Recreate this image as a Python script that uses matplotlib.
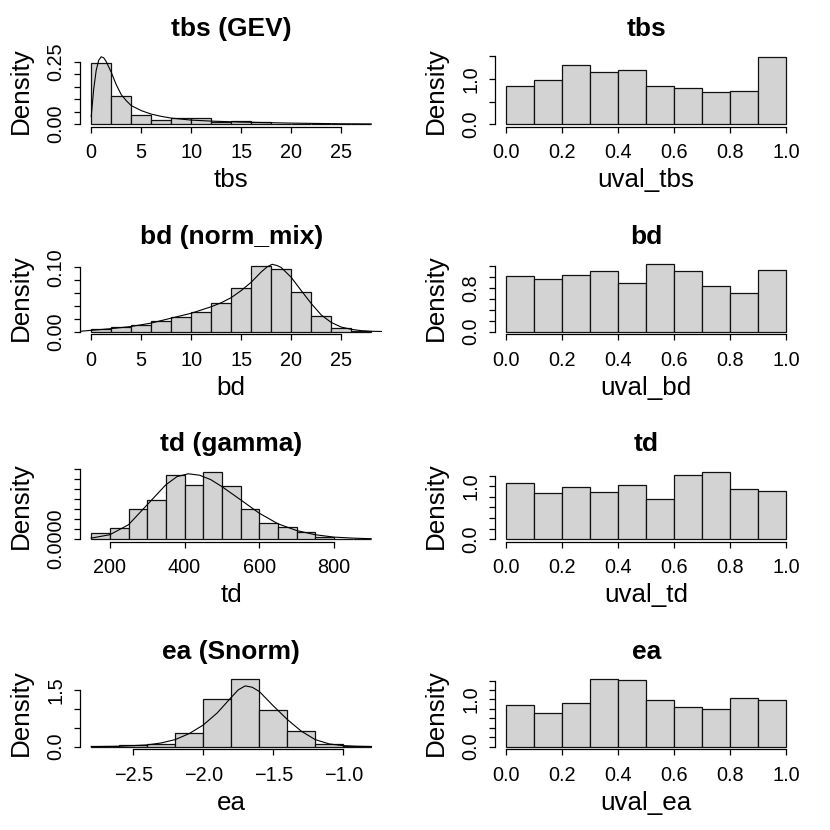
import numpy as np
import matplotlib.pyplot as plt

plt.rcParams['font.family'] = ['Liberation Sans', 'DejaVu Sans']

# ---- left column: histograms (density) with fitted curves ----
tbs_edges = [0, 2, 4, 6, 8, 10, 12, 14, 16, 18, 20, 22, 24, 26, 28]
tbs_dens = [0.245, 0.112, 0.037, 0.016, 0.024, 0.026, 0.007, 0.011, 0.007,
            0.002, 0.001, 0.0005, 0.0005, 0.0005]
tbs_fit_x = [0, 0.25, 0.5, 0.75, 1.0, 1.25, 1.5, 2, 2.5, 3, 3.5, 4, 5, 6, 7, 8,
             10, 12, 15, 20, 25, 28]
tbs_fit_y = [0.03, 0.14, 0.215, 0.255, 0.269, 0.265, 0.25, 0.2075, 0.158, 0.118,
             0.094, 0.074, 0.054, 0.040, 0.031, 0.024, 0.016, 0.012, 0.008,
             0.004, 0.0013, 0.0007]

bd_edges = [0, 2, 4, 6, 8, 10, 12, 14, 16, 18, 20, 22, 24, 26, 28]
bd_dens = [0.0036, 0.0066, 0.0107, 0.0158, 0.0227, 0.0311, 0.0446, 0.0681,
           0.1031, 0.0974, 0.0620, 0.0238, 0.0056, 0.001]
bd_fit_x = [-1.1, 0, 2, 4, 6, 8, 10, 12, 13, 14, 15, 16, 17, 17.6, 18.1, 18.6,
            19, 20, 21, 22, 23, 24, 25, 26, 27, 28, 29.1]
bd_fit_y = [0.0005, 0.002, 0.0046, 0.008, 0.0133, 0.021, 0.0286, 0.0388, 0.045,
            0.053, 0.064, 0.077, 0.093, 0.101, 0.105, 0.103, 0.100, 0.0847,
            0.064, 0.0439, 0.026, 0.0143, 0.0071, 0.0036, 0.0015, 0.0005, 0.0002]

td_edges = [150, 200, 250, 300, 350, 400, 450, 500, 550, 600, 650, 700, 750,
            800, 850, 900]
td_dens = [0.00033, 0.00058, 0.00153, 0.00197, 0.0032, 0.0027, 0.00337, 0.00265,
           0.00153, 0.00083, 0.0006, 0.00035, 0.00013, 0.00002, 0.0]
td_fit_x = [150, 200, 250, 300, 350, 380, 410, 440, 470, 500, 550, 600, 650,
            700, 750, 800, 850, 900]
td_fit_y = [0.00005, 0.00022, 0.00072, 0.00172, 0.00272, 0.00313, 0.00327,
            0.0032, 0.00298, 0.00263, 0.00197, 0.0013, 0.00077, 0.00043,
            0.00022, 0.0001, 0.00005, 0.00002]

ea_edges = [-2.8, -2.6, -2.4, -2.2, -2.0, -1.8, -1.6, -1.4, -1.2, -1.0, -0.8]
ea_dens = [0.01, 0.044, 0.075, 0.362, 1.248, 1.78, 0.975, 0.405, 0.058, 0.02]
ea_fit_x = [-2.8, -2.6, -2.4, -2.3, -2.2, -2.1, -2.0, -1.9, -1.8, -1.75, -1.7,
            -1.65, -1.6, -1.5, -1.4, -1.3, -1.2, -1.1, -1.0, -0.9, -0.8]
ea_fit_y = [0.0, 0.009, 0.044, 0.097, 0.185, 0.344, 0.57, 0.89, 1.30, 1.50, 1.605,
            1.57, 1.46, 1.08, 0.72, 0.41, 0.185, 0.071, 0.026, 0.009, 0.002]

# ---- right column: uniform (PIT) values ----
u_edges = [0.0, 0.1, 0.2, 0.3, 0.4, 0.5, 0.6, 0.7, 0.8, 0.9, 1.0]
tbs_u = [0.85, 0.968, 1.30, 1.146, 1.19, 0.843, 0.806, 0.702, 0.732, 1.493]
bd_u = [1.012, 0.958, 1.036, 1.103, 0.888, 1.227, 1.103, 0.828, 0.701, 1.121]
td_u = [1.063, 0.873, 0.994, 0.899, 1.019, 0.753, 1.215, 1.272, 0.956, 0.911]
ea_u = [0.883, 0.720, 0.918, 1.427, 1.405, 0.996, 0.833, 0.798, 1.031, 0.989]

u_xticks = [0.0, 0.2, 0.4, 0.6, 0.8, 1.0]
u_xlabels = ['0.0', '0.2', '0.4', '0.6', '0.8', '1.0']

W = H = 830.0
fig = plt.figure(figsize=(8.3, 8.3), dpi=100)


def add_panel(row, col):
    left = 80 if col == 0 else 495
    bottom = 126.8 + 207.5 * row
    return fig.add_axes([left / W, 1 - bottom / H, 302.4 / W, 72.7 / H])


def r_hist(ax, edges, dens, lo, hi, ymax, xticks, xlabels, yticks, ylabels,
           title, xlabel):
    ax.bar(edges[:-1], dens, width=np.diff(edges), align='edge',
           color='#D3D3D3', edgecolor='#111111', linewidth=0.9)
    dx = 0.04 * (hi - lo)
    ax.set_xlim(lo - dx, hi + dx)
    ax.set_ylim(-0.04 * ymax, 1.04 * ymax)
    ax.spines['top'].set_visible(False)
    ax.spines['right'].set_visible(False)
    ax.spines['bottom'].set_bounds(xticks[0], xticks[-1])
    ax.spines['left'].set_bounds(yticks[0], yticks[-1])
    for s in ('bottom', 'left'):
        ax.spines[s].set_linewidth(0.9)
    ax.set_xticks(xticks)
    ax.set_xticklabels(xlabels)
    ax.set_yticks(yticks)
    ax.set_yticklabels(ylabels, rotation=90, va='center')
    ax.tick_params(axis='both', length=4, width=0.9, labelsize=14.3)
    ax.tick_params(axis='x', pad=8.0)
    ax.tick_params(axis='y', pad=6.5)
    ax.set_title(title, fontsize=19, fontweight='bold', pad=13)
    ax.set_xlabel(xlabel, fontsize=18.7)
    ax.xaxis.set_label_coords(0.5, -0.567)
    ax.set_ylabel('Density', fontsize=18.7)
    ax.yaxis.set_label_coords(-0.1546, 0.5)


def blanks(labels, n):
    return [labels.get(i, '') for i in range(n)]


# tbs
ax = add_panel(0, 0)
r_hist(ax, tbs_edges, tbs_dens, 0, 28, max(tbs_fit_y),
       [0, 5, 10, 15, 20, 25], ['0', '5', '10', '15', '20', '25'],
       [0, 0.05, 0.10, 0.15, 0.20, 0.25], blanks({0: '0.00', 5: '0.25'}, 6),
       'tbs (GEV)', 'tbs')
ax.plot(tbs_fit_x, tbs_fit_y, color='black', lw=0.8)

ax = add_panel(0, 1)
r_hist(ax, u_edges, tbs_u, 0, 1, max(tbs_u), u_xticks, u_xlabels,
       [0, 0.5, 1.0, 1.5], blanks({0: '0.0', 2: '1.0'}, 4), 'tbs', 'uval_tbs')

# bd
ax = add_panel(1, 0)
r_hist(ax, bd_edges, bd_dens, 0, 28, max(bd_fit_y),
       [0, 5, 10, 15, 20, 25], ['0', '5', '10', '15', '20', '25'],
       [0, 0.02, 0.04, 0.06, 0.08, 0.10], blanks({0: '0.00', 5: '0.10'}, 6),
       'bd (norm_mix)', 'bd')
ax.plot(bd_fit_x, bd_fit_y, color='black', lw=0.8)

ax = add_panel(1, 1)
r_hist(ax, u_edges, bd_u, 0, 1, max(bd_u), u_xticks, u_xlabels,
       [0, 0.2, 0.4, 0.6, 0.8, 1.0, 1.2], blanks({0: '0.0', 4: '0.8'}, 7),
       'bd', 'uval_bd')

# td
ax = add_panel(2, 0)
r_hist(ax, td_edges, td_dens, 150, 900, max(td_dens),
       [200, 400, 600, 800], ['200', '400', '600', '800'],
       [0, 0.0005, 0.001, 0.0015, 0.002, 0.0025, 0.003, 0.0035],
       blanks({0: '0.0000'}, 8), 'td (gamma)', 'td')
ax.plot(td_fit_x, td_fit_y, color='black', lw=0.8)

ax = add_panel(2, 1)
r_hist(ax, u_edges, td_u, 0, 1, max(td_u), u_xticks, u_xlabels,
       [0, 0.2, 0.4, 0.6, 0.8, 1.0, 1.2], blanks({0: '0.0', 5: '1.0'}, 7),
       'td', 'uval_td')

# ea
ax = add_panel(3, 0)
r_hist(ax, ea_edges, ea_dens, -2.8, -0.8, max(ea_dens),
       [-2.5, -2.0, -1.5, -1.0], ['\u22122.5', '\u22122.0', '\u22121.5', '\u22121.0'],
       [0, 0.5, 1.0, 1.5], blanks({0: '0.0', 3: '1.5'}, 4),
       'ea (Snorm)', 'ea')
ax.plot(ea_fit_x, ea_fit_y, color='black', lw=0.8)

ax = add_panel(3, 1)
r_hist(ax, u_edges, ea_u, 0, 1, max(ea_u), u_xticks, u_xlabels,
       [0, 0.2, 0.4, 0.6, 0.8, 1.0, 1.2, 1.4], blanks({0: '0.0', 5: '1.0'}, 8),
       'ea', 'uval_ea')

plt.savefig('out.png', dpi=100)
